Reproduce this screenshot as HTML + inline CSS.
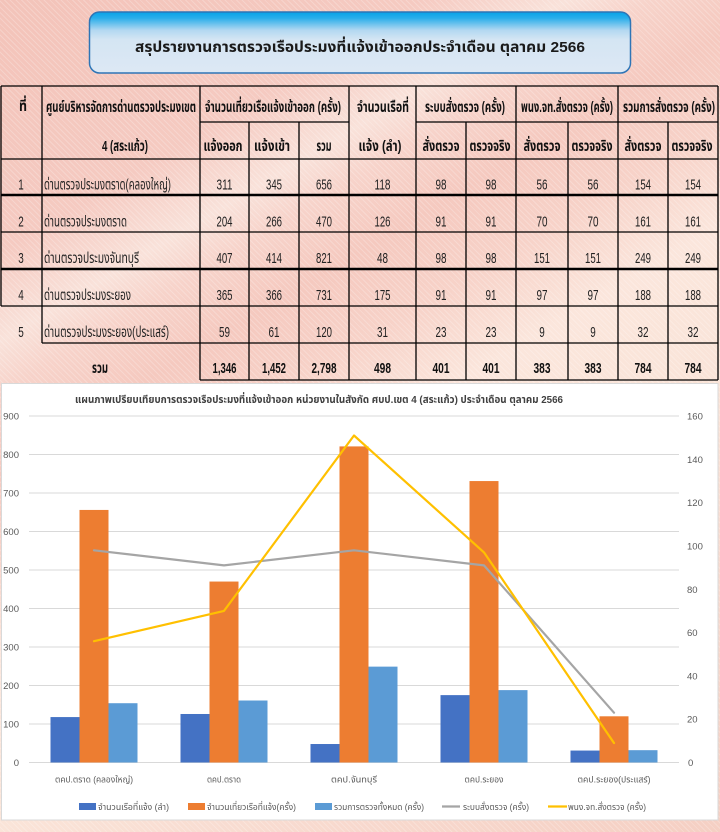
<!DOCTYPE html>
<html>
<head>
<meta charset="utf-8">
<style>
html,body{margin:0;padding:0;}
body{width:720px;height:832px;overflow:hidden;position:relative;
background:
repeating-linear-gradient(45deg, rgba(255,255,255,0) 0px, rgba(255,255,255,0) 3px, rgba(255,255,255,0.22) 3px, rgba(255,255,255,0.22) 4px),
linear-gradient(149deg, #f3c3b9 0%, #f5cac1 20%, #f9e2da 27%, #f7d3ca 31%, #f5c9bf 37%, #f7d2c8 44%, #fbe6dc 52%, #fae4d8 65%, #f8dbd0 78%, #f5cfc3 100%);
font-family:"Liberation Sans","Noto Sans Thai","DejaVu Sans",sans-serif;}
svg{position:absolute;left:0;top:0;}
.t{font-family:"Liberation Sans","Noto Sans Thai","DejaVu Sans",sans-serif;}
</style>
</head>
<body>
<svg width="720" height="832" viewBox="0 0 720 832" xmlns="http://www.w3.org/2000/svg">
<defs>
<linearGradient id="tg" x1="0" y1="0" x2="0" y2="1">
<stop offset="0" stop-color="#06a2e8"/>
<stop offset="0.1" stop-color="#2aaeea"/>
<stop offset="0.3" stop-color="#b3d8f1"/>
<stop offset="0.45" stop-color="#d4e5f3"/>
<stop offset="1" stop-color="#dde8f4"/>
</linearGradient>
</defs>

<!-- Title box -->
<rect x="89.5" y="12" width="541" height="61" rx="10" ry="10" fill="url(#tg)" stroke="#2e75b6" stroke-width="1.5"/>
<text class="t" x="360" y="52" text-anchor="middle" font-size="15" font-weight="bold" fill="#1a1a1a" textLength="450" lengthAdjust="spacingAndGlyphs">สรุปรายงานการตรวจเรือประมงที่แจ้งเข้าออกประจำเดือน ตุลาคม 2566</text>

<!-- Table lines -->
<g stroke="#000" stroke-width="1.3" fill="none">
<line x1="1" y1="86" x2="718" y2="86"/>
<line x1="200" y1="122" x2="349" y2="122"/>
<line x1="416" y1="122" x2="718" y2="122"/>
<line x1="1" y1="159" x2="718" y2="159"/>
<line x1="1" y1="195" x2="718" y2="195" stroke-width="2.6"/>
<line x1="1" y1="232" x2="718" y2="232"/>
<line x1="1" y1="269" x2="718" y2="269" stroke-width="2.6"/>
<line x1="1" y1="306" x2="718" y2="306"/>
<line x1="42" y1="343" x2="718" y2="343"/>
<line x1="200" y1="380" x2="718" y2="380"/>
<line x1="1" y1="86" x2="1" y2="306"/>
<line x1="42" y1="86" x2="42" y2="343"/>
<line x1="200" y1="86" x2="200" y2="380"/>
<line x1="249" y1="122" x2="249" y2="380"/>
<line x1="299" y1="122" x2="299" y2="380"/>
<line x1="349" y1="86" x2="349" y2="380"/>
<line x1="416" y1="86" x2="416" y2="380"/>
<line x1="466" y1="122" x2="466" y2="380"/>
<line x1="516" y1="86" x2="516" y2="380"/>
<line x1="568" y1="122" x2="568" y2="380"/>
<line x1="618" y1="86" x2="618" y2="380"/>
<line x1="668" y1="122" x2="668" y2="380"/>
<line x1="718" y1="86" x2="718" y2="380"/>
</g>

<!-- Table header text -->
<g class="t" font-size="15" font-weight="bold" fill="#111" lengthAdjust="spacingAndGlyphs">
<text x="23" y="111" text-anchor="middle" textLength="8" lengthAdjust="spacingAndGlyphs">ที่</text>
<text x="46" y="112" textLength="150" lengthAdjust="spacingAndGlyphs">ศูนย์บริหารจัดการด่านตรวจประมงเขต</text>
<text x="125" y="151" text-anchor="middle" textLength="46" lengthAdjust="spacingAndGlyphs">4 (สระแก้ว)</text>
<text x="273" y="112" text-anchor="middle" textLength="136" lengthAdjust="spacingAndGlyphs">จำนวนเที่ยวเรือแจ้งเข้าออก (ครั้ง)</text>
<text x="383" y="112" text-anchor="middle" textLength="52" lengthAdjust="spacingAndGlyphs">จำนวนเรือที่</text>
<text x="380" y="151" text-anchor="middle" textLength="43" lengthAdjust="spacingAndGlyphs">แจ้ง (ลำ)</text>
<text x="465" y="112" text-anchor="middle" textLength="80" lengthAdjust="spacingAndGlyphs">ระบบสั่งตรวจ (ครั้ง)</text>
<text x="567" y="112" text-anchor="middle" textLength="92" lengthAdjust="spacingAndGlyphs">พนง.จท.สั่งตรวจ (ครั้ง)</text>
<text x="669" y="112" text-anchor="middle" textLength="92" lengthAdjust="spacingAndGlyphs">รวมการสั่งตรวจ (ครั้ง)</text>
<text x="223" y="151" text-anchor="middle" textLength="39" lengthAdjust="spacingAndGlyphs">แจ้งออก</text>
<text x="272" y="151" text-anchor="middle" textLength="36" lengthAdjust="spacingAndGlyphs">แจ้งเข้า</text>
<text x="324" y="151" text-anchor="middle" textLength="15" lengthAdjust="spacingAndGlyphs">รวม</text>
<text x="441" y="151" text-anchor="middle" textLength="37" lengthAdjust="spacingAndGlyphs">สั่งตรวจ</text>
<text x="490" y="151" text-anchor="middle" textLength="41" lengthAdjust="spacingAndGlyphs">ตรวจจริง</text>
<text x="542" y="151" text-anchor="middle" textLength="37" lengthAdjust="spacingAndGlyphs">สั่งตรวจ</text>
<text x="592" y="151" text-anchor="middle" textLength="41" lengthAdjust="spacingAndGlyphs">ตรวจจริง</text>
<text x="643" y="151" text-anchor="middle" textLength="37" lengthAdjust="spacingAndGlyphs">สั่งตรวจ</text>
<text x="692" y="151" text-anchor="middle" textLength="41" lengthAdjust="spacingAndGlyphs">ตรวจจริง</text>
</g>

<!-- Table body text -->
<g class="t" font-size="15" fill="#222" text-anchor="middle">
<!-- row 1 -->
<text x="21" y="189.5" textLength="5.5" lengthAdjust="spacingAndGlyphs">1</text>
<text x="44" y="189.5" text-anchor="start" textLength="127" lengthAdjust="spacingAndGlyphs">ด่านตรวจประมงตราด(คลองใหญ่)</text>
<text x="224.5" y="189.5" textLength="16" lengthAdjust="spacingAndGlyphs">311</text>
<text x="274" y="189.5" textLength="16" lengthAdjust="spacingAndGlyphs">345</text>
<text x="324" y="189.5" textLength="16" lengthAdjust="spacingAndGlyphs">656</text>
<text x="382.5" y="189.5" textLength="16" lengthAdjust="spacingAndGlyphs">118</text>
<text x="441" y="189.5" textLength="11" lengthAdjust="spacingAndGlyphs">98</text>
<text x="491" y="189.5" textLength="11" lengthAdjust="spacingAndGlyphs">98</text>
<text x="542" y="189.5" textLength="11" lengthAdjust="spacingAndGlyphs">56</text>
<text x="593" y="189.5" textLength="11" lengthAdjust="spacingAndGlyphs">56</text>
<text x="643" y="189.5" textLength="16" lengthAdjust="spacingAndGlyphs">154</text>
<text x="693" y="189.5" textLength="16" lengthAdjust="spacingAndGlyphs">154</text>
<!-- row 2 -->
<text x="21" y="226.5" textLength="5.5" lengthAdjust="spacingAndGlyphs">2</text>
<text x="44" y="226.5" text-anchor="start" textLength="83" lengthAdjust="spacingAndGlyphs">ด่านตรวจประมงตราด</text>
<text x="224.5" y="226.5" textLength="16" lengthAdjust="spacingAndGlyphs">204</text>
<text x="274" y="226.5" textLength="16" lengthAdjust="spacingAndGlyphs">266</text>
<text x="324" y="226.5" textLength="16" lengthAdjust="spacingAndGlyphs">470</text>
<text x="382.5" y="226.5" textLength="16" lengthAdjust="spacingAndGlyphs">126</text>
<text x="441" y="226.5" textLength="11" lengthAdjust="spacingAndGlyphs">91</text>
<text x="491" y="226.5" textLength="11" lengthAdjust="spacingAndGlyphs">91</text>
<text x="542" y="226.5" textLength="11" lengthAdjust="spacingAndGlyphs">70</text>
<text x="593" y="226.5" textLength="11" lengthAdjust="spacingAndGlyphs">70</text>
<text x="643" y="226.5" textLength="16" lengthAdjust="spacingAndGlyphs">161</text>
<text x="693" y="226.5" textLength="16" lengthAdjust="spacingAndGlyphs">161</text>
<!-- row 3 -->
<text x="21" y="263" textLength="5.5" lengthAdjust="spacingAndGlyphs">3</text>
<text x="44" y="263" text-anchor="start" textLength="95" lengthAdjust="spacingAndGlyphs">ด่านตรวจประมงจันทบุรี</text>
<text x="224.5" y="263" textLength="16" lengthAdjust="spacingAndGlyphs">407</text>
<text x="274" y="263" textLength="16" lengthAdjust="spacingAndGlyphs">414</text>
<text x="324" y="263" textLength="16" lengthAdjust="spacingAndGlyphs">821</text>
<text x="382.5" y="263" textLength="11" lengthAdjust="spacingAndGlyphs">48</text>
<text x="441" y="263" textLength="11" lengthAdjust="spacingAndGlyphs">98</text>
<text x="491" y="263" textLength="11" lengthAdjust="spacingAndGlyphs">98</text>
<text x="542" y="263" textLength="16" lengthAdjust="spacingAndGlyphs">151</text>
<text x="593" y="263" textLength="16" lengthAdjust="spacingAndGlyphs">151</text>
<text x="643" y="263" textLength="16" lengthAdjust="spacingAndGlyphs">249</text>
<text x="693" y="263" textLength="16" lengthAdjust="spacingAndGlyphs">249</text>
<!-- row 4 -->
<text x="21" y="300" textLength="5.5" lengthAdjust="spacingAndGlyphs">4</text>
<text x="44" y="300" text-anchor="start" textLength="87" lengthAdjust="spacingAndGlyphs">ด่านตรวจประมงระยอง</text>
<text x="224.5" y="300" textLength="16" lengthAdjust="spacingAndGlyphs">365</text>
<text x="274" y="300" textLength="16" lengthAdjust="spacingAndGlyphs">366</text>
<text x="324" y="300" textLength="16" lengthAdjust="spacingAndGlyphs">731</text>
<text x="382.5" y="300" textLength="16" lengthAdjust="spacingAndGlyphs">175</text>
<text x="441" y="300" textLength="11" lengthAdjust="spacingAndGlyphs">91</text>
<text x="491" y="300" textLength="11" lengthAdjust="spacingAndGlyphs">91</text>
<text x="542" y="300" textLength="11" lengthAdjust="spacingAndGlyphs">97</text>
<text x="593" y="300" textLength="11" lengthAdjust="spacingAndGlyphs">97</text>
<text x="643" y="300" textLength="16" lengthAdjust="spacingAndGlyphs">188</text>
<text x="693" y="300" textLength="16" lengthAdjust="spacingAndGlyphs">188</text>
<!-- row 5 -->
<text x="21" y="337" textLength="5.5" lengthAdjust="spacingAndGlyphs">5</text>
<text x="44" y="337" text-anchor="start" textLength="125" lengthAdjust="spacingAndGlyphs">ด่านตรวจประมงระยอง(ประแสร์)</text>
<text x="224.5" y="337" textLength="11" lengthAdjust="spacingAndGlyphs">59</text>
<text x="274" y="337" textLength="11" lengthAdjust="spacingAndGlyphs">61</text>
<text x="324" y="337" textLength="16" lengthAdjust="spacingAndGlyphs">120</text>
<text x="382.5" y="337" textLength="11" lengthAdjust="spacingAndGlyphs">31</text>
<text x="441" y="337" textLength="11" lengthAdjust="spacingAndGlyphs">23</text>
<text x="491" y="337" textLength="11" lengthAdjust="spacingAndGlyphs">23</text>
<text x="542" y="337" textLength="5.5" lengthAdjust="spacingAndGlyphs">9</text>
<text x="593" y="337" textLength="5.5" lengthAdjust="spacingAndGlyphs">9</text>
<text x="643" y="337" textLength="11" lengthAdjust="spacingAndGlyphs">32</text>
<text x="693" y="337" textLength="11" lengthAdjust="spacingAndGlyphs">32</text>
</g>
<!-- total row -->
<g class="t" font-size="15" font-weight="bold" fill="#111" text-anchor="middle">
<text x="100" y="373" textLength="16" lengthAdjust="spacingAndGlyphs">รวม</text>
<text x="224.5" y="373" textLength="24" lengthAdjust="spacingAndGlyphs">1,346</text>
<text x="274" y="373" textLength="24" lengthAdjust="spacingAndGlyphs">1,452</text>
<text x="324" y="373" textLength="25" lengthAdjust="spacingAndGlyphs">2,798</text>
<text x="382.5" y="373" textLength="17" lengthAdjust="spacingAndGlyphs">498</text>
<text x="441" y="373" textLength="17" lengthAdjust="spacingAndGlyphs">401</text>
<text x="491" y="373" textLength="17" lengthAdjust="spacingAndGlyphs">401</text>
<text x="542" y="373" textLength="17" lengthAdjust="spacingAndGlyphs">383</text>
<text x="593" y="373" textLength="17" lengthAdjust="spacingAndGlyphs">383</text>
<text x="643" y="373" textLength="17" lengthAdjust="spacingAndGlyphs">784</text>
<text x="693" y="373" textLength="17" lengthAdjust="spacingAndGlyphs">784</text>
</g>

<!-- Chart container -->
<rect x="1.5" y="383.5" width="716.5" height="436.5" fill="#ffffff" stroke="#d9d9d9" stroke-width="1"/>
<text class="t" x="75" y="403" font-size="10.5" font-weight="bold" fill="#404040" textLength="488" lengthAdjust="spacingAndGlyphs">แผนภาพเปรียบเทียบการตรวจเรือประมงที่แจ้งเข้าออก หน่วยงานในสังกัด ศบป.เขต 4 (สระแก้ว) ประจำเดือน ตุลาคม 2566</text>

<!-- gridlines -->
<g stroke="#d9d9d9" stroke-width="1">
<line x1="29" y1="762.5" x2="679" y2="762.5"/>
<line x1="29" y1="724" x2="679" y2="724"/>
<line x1="29" y1="685.5" x2="679" y2="685.5"/>
<line x1="29" y1="647" x2="679" y2="647"/>
<line x1="29" y1="608.5" x2="679" y2="608.5"/>
<line x1="29" y1="570" x2="679" y2="570"/>
<line x1="29" y1="531.5" x2="679" y2="531.5"/>
<line x1="29" y1="493" x2="679" y2="493"/>
<line x1="29" y1="454.5" x2="679" y2="454.5"/>
<line x1="29" y1="416" x2="679" y2="416"/>
</g>

<!-- left axis labels -->
<g class="t" font-size="9.5" fill="#595959" text-anchor="end">
<text x="19" y="766">0</text>
<text x="19" y="727.5">100</text>
<text x="19" y="689">200</text>
<text x="19" y="650.5">300</text>
<text x="19" y="612">400</text>
<text x="19" y="573.5">500</text>
<text x="19" y="535">600</text>
<text x="19" y="496.5">700</text>
<text x="19" y="458">800</text>
<text x="19" y="419.5">900</text>
</g>
<!-- right axis labels -->
<g class="t" font-size="9.5" fill="#595959" text-anchor="start">
<text x="688" y="766">0</text>
<text x="687" y="722.7">20</text>
<text x="687" y="679.4">40</text>
<text x="687" y="636.1">60</text>
<text x="687" y="592.8">80</text>
<text x="687" y="549.4">100</text>
<text x="687" y="506.1">120</text>
<text x="687" y="462.8">140</text>
<text x="687" y="419.5">160</text>
</g>

<!-- bars -->
<g fill="#4472c4">
<rect x="50.5" y="717.07" width="29" height="45.43"/>
<rect x="180.5" y="713.99" width="29" height="48.51"/>
<rect x="310.5" y="744.02" width="29" height="18.48"/>
<rect x="440.5" y="695.12" width="29" height="67.38"/>
<rect x="570.5" y="750.56" width="29" height="11.94"/>
</g>
<g fill="#ed7d31">
<rect x="79.5" y="509.94" width="29" height="252.56"/>
<rect x="209.5" y="581.55" width="29" height="180.95"/>
<rect x="339.5" y="446.41" width="29" height="316.09"/>
<rect x="469.5" y="481.06" width="29" height="281.44"/>
<rect x="599.5" y="716.3" width="29" height="46.2"/>
</g>
<g fill="#5b9bd5">
<rect x="108.5" y="703.21" width="29" height="59.29"/>
<rect x="238.5" y="700.51" width="29" height="61.99"/>
<rect x="368.5" y="666.63" width="29" height="95.87"/>
<rect x="498.5" y="690.12" width="29" height="72.38"/>
<rect x="628.5" y="750.18" width="29" height="12.32"/>
</g>

<!-- lines -->
<polyline points="94,550.3 224,565.4 354,550.3 484,565.4 614,712.7" fill="none" stroke="#a5a5a5" stroke-width="2.2" stroke-linejoin="round" stroke-linecap="round"/>
<polyline points="94,641.2 224,610.9 354,435.5 484,552.4 614,743" fill="none" stroke="#ffc000" stroke-width="2.2" stroke-linejoin="round" stroke-linecap="round"/>

<!-- x labels -->
<g class="t" font-size="9" fill="#595959" text-anchor="middle">
<text x="94" y="782.5" textLength="78" lengthAdjust="spacingAndGlyphs">ตคป.ตราด (คลองใหญ่)</text>
<text x="224" y="782.5" textLength="34" lengthAdjust="spacingAndGlyphs">ตคป.ตราด</text>
<text x="354" y="782.5" textLength="46" lengthAdjust="spacingAndGlyphs">ตคป.จันทบุรี</text>
<text x="484" y="782.5" textLength="39" lengthAdjust="spacingAndGlyphs">ตคป.ระยอง</text>
<text x="614" y="782.5" textLength="73" lengthAdjust="spacingAndGlyphs">ตคป.ระยอง(ประแสร์)</text>
</g>

<!-- legend -->
<rect x="79" y="803" width="17" height="7" fill="#4472c4"/>
<rect x="188" y="803" width="17" height="7" fill="#ed7d31"/>
<rect x="315" y="803" width="17" height="7" fill="#5b9bd5"/>
<line x1="442" y1="806.5" x2="460" y2="806.5" stroke="#a5a5a5" stroke-width="2.2"/>
<line x1="548" y1="806.5" x2="567" y2="806.5" stroke="#ffc000" stroke-width="2.2"/>
<g class="t" font-size="9" fill="#595959">
<text x="98" y="810" textLength="71" lengthAdjust="spacingAndGlyphs">จำนวนเรือที่แจ้ง (ลำ)</text>
<text x="207" y="810" textLength="89" lengthAdjust="spacingAndGlyphs">จำนวนเที่ยวเรือที่แจ้ง(ครั้ง)</text>
<text x="334" y="810" textLength="90" lengthAdjust="spacingAndGlyphs">รวมการตรวจทั้งหมด (ครั้ง)</text>
<text x="463" y="810" textLength="66" lengthAdjust="spacingAndGlyphs">ระบบสั่งตรวจ (ครั้ง)</text>
<text x="568" y="810" textLength="78" lengthAdjust="spacingAndGlyphs">พนง.จท.สั่งตรวจ (ครั้ง)</text>
</g>
</svg>
</body>
</html>
